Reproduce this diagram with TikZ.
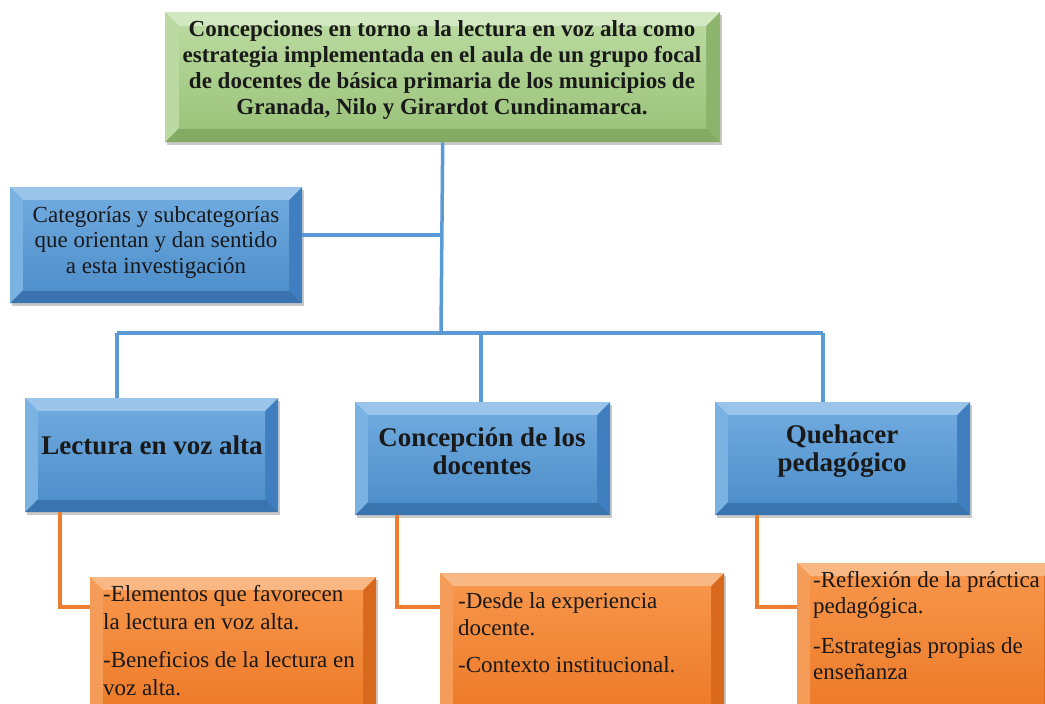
\documentclass[tikz,border=0pt]{standalone}
\usepackage{fontspec}
\setmainfont{Liberation Serif}
\usetikzlibrary{shadows}
\definecolor{gbase}{HTML}{9CC47C}
\definecolor{gtop}{HTML}{D2E8C0}
\definecolor{gleft}{HTML}{BBDAA2}
\definecolor{gright}{HTML}{8DB46C}
\definecolor{gbot}{HTML}{84AB64}
\definecolor{gin1}{HTML}{B9D99E}
\definecolor{gin2}{HTML}{9CC47C}
\definecolor{bbase}{HTML}{5B9BD5}
\definecolor{btop}{HTML}{9AC4EA}
\definecolor{bleft}{HTML}{7AB2E2}
\definecolor{bright}{HTML}{3F7FBF}
\definecolor{bbot}{HTML}{3A74AE}
\definecolor{bin1}{HTML}{6EA9DE}
\definecolor{bin2}{HTML}{4F8FCB}
\definecolor{obase}{HTML}{F08030}
\definecolor{otop}{HTML}{F9B784}
\definecolor{oleft}{HTML}{F59C58}
\definecolor{oright}{HTML}{D8691C}
\definecolor{obot}{HTML}{CC6218}
\definecolor{oin1}{HTML}{F7954A}
\definecolor{oin2}{HTML}{EC7A28}
\definecolor{bline}{HTML}{5B9BD5}
\definecolor{oline}{HTML}{ED7D31}
\tikzset{
  box/.style={rectangle, inner sep=0pt, anchor=north west,
    drop shadow={shadow xshift=2pt, shadow yshift=-3pt, opacity=0.35, fill=black!60}},
  bevel/.style n args={6}{path picture={
    \fill[#1] (path picture bounding box.north west) -- (path picture bounding box.north east) -- ([shift={(-#6,-#6)}]path picture bounding box.north east) -- ([shift={(#6,-#6)}]path picture bounding box.north west) -- cycle;
    \fill[#2] (path picture bounding box.north west) -- ([shift={(#6,-#6)}]path picture bounding box.north west) -- ([shift={(#6,#6)}]path picture bounding box.south west) -- (path picture bounding box.south west) -- cycle;
    \fill[#3] (path picture bounding box.north east) -- ([shift={(-#6,-#6)}]path picture bounding box.north east) -- ([shift={(-#6,#6)}]path picture bounding box.south east) -- (path picture bounding box.south east) -- cycle;
    \fill[#4] (path picture bounding box.south west) -- ([shift={(#6,#6)}]path picture bounding box.south west) -- ([shift={(-#6,#6)}]path picture bounding box.south east) -- (path picture bounding box.south east) -- cycle;
    \shade[#5] ([shift={(#6,-#6)}]path picture bounding box.north west) rectangle ([shift={(-#6,#6)}]path picture bounding box.south east);
  }},
  greenbox/.style={box, fill=gbase, bevel={gtop}{gleft}{gright}{gbot}{top color=gin1, bottom color=gin2}{14pt}},
  bluebox/.style={box, fill=bbase, bevel={btop}{bleft}{bright}{bbot}{top color=bin1, bottom color=bin2}{13pt}},
  orangebox/.style={box, fill=obase, bevel={otop}{oleft}{oright}{obot}{top color=oin1, bottom color=oin2}{13pt}},
  bconn/.style={draw=bline, line width=3.5pt},
  oconn/.style={draw=oline, line width=3.2pt},
  txt/.style={inner sep=0pt, text=black!90},
}
\begin{document}
\begin{tikzpicture}[x=1pt,y=-1pt]
\clip (0,0) rectangle (1045,704);
\fill[white] (0,0) rectangle (1045,704);
\coordinate (j1) at (441,235);
\coordinate (j2) at (441,333);
\coordinate (b1) at (117,333);
\coordinate (b2) at (481,333);
\coordinate (b3) at (823,333);
\coordinate (o1) at (60,607);
\coordinate (o2) at (397,607);
\coordinate (o3) at (757,607);
% boxes
\node[greenbox, minimum width=555pt, minimum height=130pt] (top) at (165,12) {};
\node[bluebox, minimum width=292pt, minimum height=116pt] (cat) at (10,187) {};
\node[bluebox, minimum width=253pt, minimum height=114pt] (lec) at (25,398) {};
\node[bluebox, minimum width=255pt, minimum height=113pt] (con) at (355,402) {};
\node[bluebox, minimum width=255pt, minimum height=113pt] (que) at (715,402) {};
\node[orangebox, minimum width=286pt, minimum height=150pt] (s1) at (90,577) {};
\node[orangebox, minimum width=284pt, minimum height=150pt] (s2) at (440,573) {};
\node[orangebox, minimum width=260pt, minimum height=160pt] (s3) at (797,563) {};
% connectors
\draw[bconn] (top.south) -- (j2);
\draw[bconn] (cat.east |- j1) -- (j1);
\draw[bconn] (b1) -- (b3);
\draw[bconn] (b1) -- (lec.north -| b1);
\draw[bconn] (b2) -- (con.north -| b2);
\draw[bconn] (b3) -- (que.north -| b3);
\draw[oconn] (lec.south -| o1) -- (o1) -- (s1.west |- o1);
\draw[oconn] (con.south -| o2) -- (o2) -- (s2.west |- o2);
\draw[oconn] (que.south -| o3) -- (o3) -- (s3.west |- o3);
% texts
\node[txt, align=center, font=\fontsize{23}{25.8}\selectfont\bfseries] (ttop) at (442,70)
  {Concepciones en torno a la lectura en voz alta como\\ estrategia implementada en el aula de un grupo focal\\ de docentes de básica primaria de los municipios de\\ Granada, Nilo y Girardot Cundinamarca.};
\node[txt, align=center, font=\fontsize{23}{25.5}\selectfont] (tcat) at (156,242)
  {Categorías y subcategorías\\ que orientan y dan sentido\\ a esta investigación};
\node[txt, align=center, font=\fontsize{27}{28}\selectfont\bfseries] (tlec) at (152,445) {Lectura en voz alta};
\node[txt, align=center, font=\fontsize{27}{28}\selectfont\bfseries] (tcon) at (482,451) {Concepción de los\\ docentes};
\node[txt, align=center, font=\fontsize{27}{28}\selectfont\bfseries] (tque) at (842,451) {Quehacer\\ pedagógico};
\node[txt, align=left, anchor=base west, font=\fontsize{23}{28}\selectfont] (ts1) at (103,695)
  {-Elementos que favorecen\\ la lectura en voz alta.\\[10pt] -Beneficios de la lectura en\\ voz alta.};
\node[txt, align=left, anchor=base west, font=\fontsize{23}{27}\selectfont] (ts2) at (458,672)
  {-Desde la experiencia\\ docente.\\[10pt] -Contexto institucional.};
\node[txt, align=left, anchor=base west, font=\fontsize{23}{26}\selectfont] (ts3) at (813,679)
  {-Reflexión de la práctica\\ pedagógica.\\[14pt] -Estrategias propias de\\ enseñanza};
\end{tikzpicture}
\end{document}
